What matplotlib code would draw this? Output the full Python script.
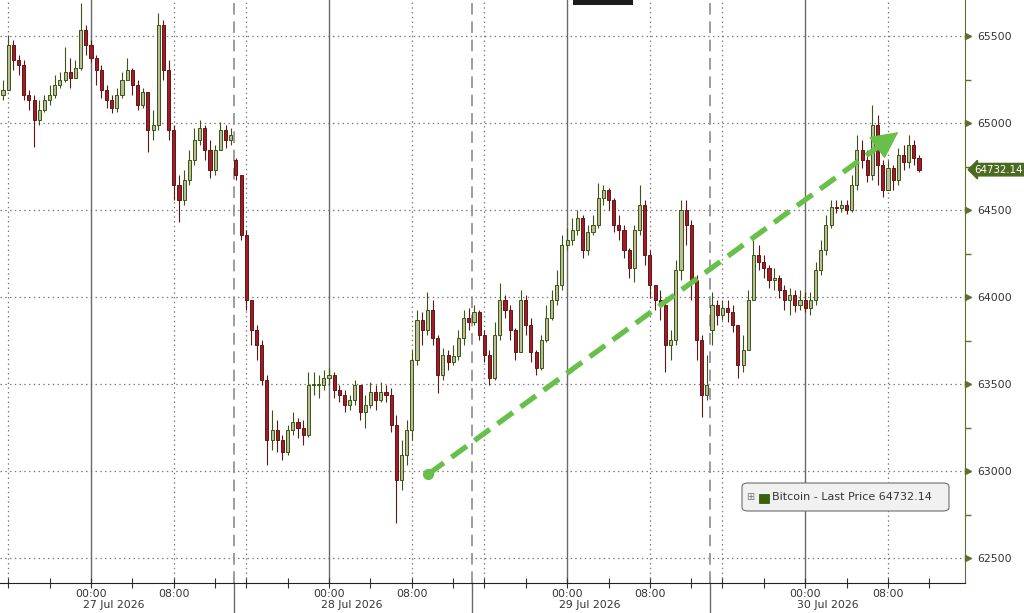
import matplotlib
matplotlib.use("Agg")
import matplotlib.pyplot as plt
import numpy as np
from matplotlib.patches import Rectangle, FancyBboxPatch
from matplotlib.transforms import blended_transform_factory, offset_copy

# Bitcoin 30-minute candles, 26 Jul 16:00 .. 30 Jul ~11:00 (session hours, 23h per day)
closes = [65190, 65448, 65362, 65333, 65161, 65132, 65017, 65075, 65132, 65161,
          65219, 65247, 65293, 65259, 65316, 65535, 65448, 65374, 65305, 65190,
          65132, 65086, 65161, 65247, 65305, 65219, 65104, 65178, 64960, 64989,
          65563, 65305, 64960, 64644, 64558, 64673, 64787, 64902, 64971, 64845,
          64730, 64845, 64960, 64902, 64931, 64701, 64356, 63983, 63810, 63724,
          63523, 63178, 63236, 63178, 63109, 63236, 63282, 63247, 63207, 63494,
          63494, 63494, 63535, 63552, 63466, 63437, 63379, 63408, 63494, 63339,
          63379, 63454, 63408, 63454, 63437, 63265, 62948, 63092, 63236, 63638,
          63868, 63810, 63925, 63765, 63552, 63667, 63627, 63661, 63765, 63879,
          63856, 63914, 63782, 63667, 63535, 63782, 63983, 63925, 63810, 63684,
          63983, 63839, 63684, 63592, 63753, 63879, 63983, 64069, 64299, 64328,
          64385, 64454, 64270, 64374, 64414, 64569, 64615, 64558, 64414, 64385,
          64270, 64167, 64385, 64529, 64242, 64069, 63983, 63954, 63724, 63753,
          64155, 64500, 64414, 64098, 63753, 63437, 63494, 63954, 63897, 63937,
          63914, 63839, 63609, 63696, 63983, 64242, 64201, 64167, 64098, 64109,
          64040, 63983, 64012, 63954, 63983, 63937, 63983, 64155, 64270, 64414,
          64517, 64512, 64529, 64500, 64644, 64845, 64787, 64701, 64989, 64759,
          64615, 64741, 64673, 64816, 64776, 64874, 64799, 64732.14]

highs = [65247, 65506, 65477, 65391, 65362, 65190, 65161, 65132, 65161, 65219,
         65276, 65293, 65437, 65374, 65362, 65690, 65563, 65477, 65391, 65333,
         65219, 65161, 65201, 65293, 65374, 65316, 65247, 65201, 65132, 65075,
         65632, 65592, 65362, 64989, 64701, 64730, 64845, 64971, 65017, 64989,
         64902, 64874, 65006, 64989, 64971, 64799, 64701, 64385, 63954, 63839,
         63753, 63552, 63351, 63293, 63207, 63265, 63339, 63305, 63293, 63569,
         63569, 63552, 63581, 63592, 63569, 63494, 63466, 63437, 63523, 63494,
         63437, 63512, 63494, 63512, 63494, 63477, 63322, 63178, 63293, 63696,
         63925, 63914, 64029, 63983, 63782, 63707, 63696, 63724, 63810, 63925,
         63937, 63954, 63925, 63810, 63696, 63856, 64081, 64012, 63954, 63822,
         64040, 64012, 63879, 63696, 63782, 63954, 64040, 64155, 64356, 64397,
         64454, 64500, 64471, 64414, 64471, 64655, 64644, 64627, 64569, 64471,
         64414, 64282, 64414, 64644, 64558, 64270, 64069, 64040, 63983, 63810,
         64213, 64558, 64558, 64443, 64127, 63782, 63667, 64029, 63983, 63983,
         63983, 63954, 63839, 63782, 64040, 64328, 64299, 64242, 64184, 64167,
         64127, 64069, 64052, 64040, 64040, 64029, 64029, 64201, 64328, 64471,
         64558, 64558, 64558, 64558, 64701, 64931, 64902, 64845, 65104, 65046,
         64787, 64787, 64759, 64856, 64874, 64931, 64902, 64816]

lows = [65132, 65190, 65305, 65276, 65132, 65075, 64862, 64989, 65063, 65104,
        65144, 65201, 65236, 65201, 65276, 65305, 65391, 65351, 65219, 65144,
        65086, 65058, 65063, 65144, 65247, 65161, 65075, 65086, 64833, 64902,
        64960, 65247, 64902, 64558, 64431, 64529, 64644, 64759, 64874, 64787,
        64684, 64701, 64845, 64856, 64874, 64673, 64328, 63925, 63724, 63638,
        63494, 63035, 63121, 63109, 63063, 63092, 63207, 63190, 63150, 63196,
        63437, 63420, 63466, 63494, 63420, 63397, 63339, 63351, 63379, 63293,
        63247, 63362, 63351, 63397, 63397, 63224, 62701, 62891, 63035, 63178,
        63609, 63724, 63782, 63724, 63448, 63523, 63581, 63609, 63638, 63724,
        63810, 63839, 63753, 63627, 63494, 63523, 63753, 63879, 63753, 63638,
        63696, 63782, 63627, 63552, 63581, 63742, 63868, 63954, 64040, 64270,
        64299, 64356, 64224, 64242, 64356, 64397, 64529, 64500, 64374, 64328,
        64224, 64109, 64086, 64356, 64184, 63994, 63925, 63868, 63569, 63638,
        63724, 64098, 64299, 63983, 63638, 63310, 63408, 63724, 63839, 63868,
        63856, 63799, 63535, 63569, 63696, 63983, 64155, 64109, 64052, 64040,
        63994, 63925, 63897, 63914, 63925, 63914, 63897, 63954, 64127, 64242,
        64397, 64483, 64489, 64477, 64489, 64615, 64741, 64661, 64673, 64644,
        64575, 64627, 64615, 64644, 64730, 64741, 64759, 64719]

# opens follow the previous close except where the market gapped
gap_opens = {0: 65161, 45: 64787, 137: 63810}

days = ["27 Jul 2026", "28 Jul 2026", "29 Jul 2026", "30 Jul 2026"]
yticks = [62500, 63000, 63500, 64000, 64500, 65000, 65500]
last_price = 64732.14
arrow_start = (32.6, 62983)
arrow_end = (78.0, 64948)

HOURS_PER_DAY = 23   # session break of one hour each day
first_t = -8.5
step = 0.5
x_min, x_max = -8.79, 84.44
data_end = 82

up_fill = "#b9bb9b"
up_edge = "#3a5610"
dn_fill = "#a11b2a"
dn_edge = "#5e1712"
olive = "#5f6f2c"
arrow_green = "#66c04a"
dotted = (0, (1.2, 2.6))

plt.rcParams['font.family'] = ['DejaVu Sans']

fig = plt.figure(figsize=(10.24, 6.13), dpi=100)
ax = fig.add_axes([0, 30 / 613, 965 / 1024, 583 / 613])

closes = np.array(closes, dtype=float)
highs = np.array(highs, dtype=float)
lows = np.array(lows, dtype=float)
opens = np.concatenate([[closes[0]], closes[:-1]])
for k, v in gap_opens.items():
    opens[k] = v
highs = np.maximum(highs, np.maximum(opens, closes))
lows = np.minimum(lows, np.minimum(opens, closes))
t = first_t + step * np.arange(len(closes))

# grid
for y in yticks:
    ax.axhline(y, color="#7d7d7d", lw=0.9, ls=dotted, zorder=1)
for d in range(-1, 4):
    base = d * HOURS_PER_DAY
    ax.axvline(base, color="#6a6a6a", lw=1.0, zorder=1)
    ax.axvline(base + 8, color="#7d7d7d", lw=0.9, ls=dotted, zorder=1)
    if base + 15 < data_end:
        ax.axvline(base + 15, color="#7d7d7d", lw=0.9, ls=dotted, zorder=1)
        ax.axvline(base + 13.85, color="#8c8c8c", lw=1.2, ls=(0, (7, 4)), zorder=1)
        ax.plot([base + 13.85, base + 13.85], [-0.06, 0], color="#6a6a6a", lw=1.0,
                transform=ax.get_xaxis_transform(), clip_on=False)

# candles
up = closes >= opens
w = 0.3
body_lo = np.minimum(opens, closes)
body_h = np.maximum(np.abs(closes - opens), 4)
ax.vlines(t[up], lows[up], highs[up], color=up_edge, lw=0.8, zorder=3)
ax.vlines(t[~up], lows[~up], highs[~up], color=dn_edge, lw=0.8, zorder=3)
ax.bar(t[up], body_h[up], bottom=body_lo[up], width=w, color=up_fill,
       edgecolor=up_edge, linewidth=0.7, zorder=4)
ax.bar(t[~up], body_h[~up], bottom=body_lo[~up], width=w, color=dn_fill,
       edgecolor=dn_edge, linewidth=0.7, zorder=4)

# trend arrow
dx_px = (arrow_end[0] - arrow_start[0]) * 10.35
dy_px = (arrow_end[1] - arrow_start[1]) / 5.747
L = np.hypot(dx_px, dy_px)
head = 20
base_pt = (arrow_end[0] - dx_px / L * head / 10.35, arrow_end[1] - dy_px / L * head * 5.747)
ax.plot([arrow_start[0], base_pt[0]], [arrow_start[1], base_pt[1]], color=arrow_green,
        lw=3.8, ls=(0, (3.6, 1.8)), solid_capstyle='butt', zorder=6)
ax.plot([arrow_start[0]], [arrow_start[1]], 'o', color=arrow_green, ms=7, zorder=6)
ax.annotate('', xy=arrow_end, xytext=base_pt,
            arrowprops=dict(arrowstyle='-|>,head_length=1.6,head_width=0.8', mutation_scale=11,
                            color=arrow_green, lw=1, shrinkA=0, shrinkB=0), zorder=6)

ax.set_xlim(x_min, x_max)
ax.set_ylim(62357, 65707)

# axes styling
for s in ['top', 'left']:
    ax.spines[s].set_visible(False)
ax.spines['right'].set_color(olive)
ax.spines['bottom'].set_color("#222222")
ax.spines['bottom'].set_zorder(7)

ax.yaxis.tick_right()
ax.set_yticks(yticks)
ax.set_yticklabels([str(v) for v in yticks])
ax.set_yticks(np.arange(62750, 65700, 500), minor=True)
ax.tick_params(axis='y', which='major', length=0, pad=9, labelsize=7.8, labelcolor="#333333")
ax.tick_params(axis='y', which='minor', length=4, color=olive, width=1)
ax.plot([1.0] * len(yticks), yticks, ls='none', marker='>', ms=5, color=olive,
        transform=offset_copy(ax.get_yaxis_transform(), fig=fig, x=3, units='dots'),
        clip_on=False, zorder=8)

major_x = []
major_lbl = []
for d in range(4):
    major_x += [d * HOURS_PER_DAY, d * HOURS_PER_DAY + 8]
    major_lbl += ["00:00", "08:00"]
minor_x = []
for d in range(-1, 4):
    minor_x += [d * HOURS_PER_DAY + h for h in (4, 12, 15, 19)]
ax.set_xticks(major_x)
ax.set_xticklabels(major_lbl)
ax.set_xticks([m for m in minor_x if x_min < m < data_end], minor=True)
ax.tick_params(axis='x', which='both', direction='inout', length=7, width=0.8,
               color="#333333", labelsize=7.8, labelcolor="#333333", pad=1)

trans = blended_transform_factory(ax.transData, ax.transAxes)
for d, lbl in enumerate(days):
    ax.text(d * HOURS_PER_DAY - 0.75, -0.0295, lbl, transform=trans, ha='left', va='top',
            fontsize=7.8, color="#333333")

# last price tag
ax.annotate(f"{last_price:.2f}", xy=(1.0, last_price), xycoords=('axes fraction', 'data'),
            xytext=(7, 0), textcoords='offset points', ha='left', va='center',
            color='white', fontsize=7.4,
            bbox=dict(boxstyle='larrow,pad=0.12', fc="#4b6a20", ec="#4b6a20"),
            annotation_clip=False)

# legend box
fx = lambda px: px / 1024
fy = lambda py: 1 - py / 613
fig.patches.append(FancyBboxPatch((fx(742), fy(511)), fx(949) - fx(742), fy(483) - fy(511),
                                  boxstyle='round,pad=0,rounding_size=0.006',
                                  transform=fig.transFigure, fc="#f1f1f1", ec="#6e6e6e", lw=0.8))
fig.text(fx(750), fy(497), "\u229e", fontsize=7, color="#777777", ha='center', va='center')
fig.patches.append(Rectangle((fx(759), fy(503)), fx(10), 9 / 613, transform=fig.transFigure,
                             fc="#3b6108", ec="#2d4a06", lw=0.5))
fig.text(fx(772), fy(497), f"Bitcoin - Last Price {last_price:.2f}", fontsize=8,
         color="#333333", ha='left', va='center')

# dark tab at top
fig.patches.append(Rectangle((fx(573), fy(5)), fx(60), 5 / 613, transform=fig.transFigure,
                             fc="#1c1c1c", ec='none'))

fig.savefig("out.png", dpi=100, facecolor='white')
